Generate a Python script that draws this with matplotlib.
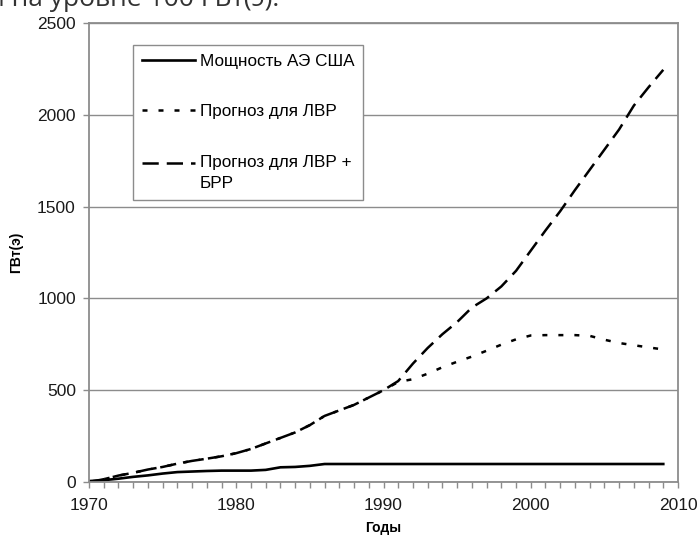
import numpy as np
import matplotlib
matplotlib.use('Agg')
from matplotlib import pyplot as plt
from matplotlib.legend_handler import HandlerLine2D

plt.rcParams['font.family'] = ['Liberation Sans', 'DejaVu Sans']

years = np.arange(1970, 2010)

# US nuclear power, GW(e)
us_power = [5, 10, 18, 28, 36, 46, 54, 57, 60, 62,
            62, 62, 66, 80, 82, 88, 98, 98, 98, 98,
            98, 98, 98, 98, 98, 98, 98, 98, 98, 98,
            98, 98, 98, 98, 98, 98, 98, 98, 98, 98]

# forecast for LWR
lwr = [0, 15, 35, 50, 68, 82, 100, 115, 127, 140,
       157, 180, 210, 240, 270, 310, 360, 390, 420, 460,
       500, 545, 560, 590, 625, 655, 683, 715, 748, 777,
       798, 800, 800, 800, 796, 775, 757, 745, 733, 722]

# forecast for LWR + FBR
lwr_fbr = [0, 15, 35, 50, 68, 82, 100, 115, 127, 140,
           157, 180, 210, 240, 270, 310, 360, 390, 420, 460,
           500, 550, 645, 730, 805, 871, 950, 1000, 1065, 1150,
           1260, 1370, 1475, 1590, 1700, 1810, 1920, 2050, 2150, 2245]

labels = ['Мощность АЭ США', 'Прогноз для ЛВР', 'Прогноз для ЛВР +\nБРР']

GRAY = '#8c8c8c'


class FirstLineHandler(HandlerLine2D):
    # put the handle next to the first line of a two-line label
    def create_artists(self, legend, orig_handle, xdescent, ydescent,
                       width, height, fontsize, trans):
        arts = super().create_artists(legend, orig_handle, xdescent, ydescent,
                                      width, height, fontsize, trans)
        for a in arts:
            a.set_ydata(np.asarray(a.get_ydata()) + 0.6 * fontsize)
        return arts


fig = plt.figure(figsize=(6.98, 5.36), dpi=100)
ax = fig.add_axes([89 / 698, 1 - 482 / 536, 589 / 698, 459 / 536])

l1, = ax.plot(years, us_power, color='black', lw=1.9, label=labels[0])
l2, = ax.plot(years, lwr, color='black', lw=1.8, linestyle=(0, (2.0, 4.4)),
              label=labels[1])
l3, = ax.plot(years, lwr_fbr, color='black', lw=1.8, linestyle=(0, (6.5, 3.2)),
              label=labels[2])

ax.set_xlim(1970, 2010)
ax.set_ylim(0, 2500)
ax.set_xticks(range(1970, 2011, 10))
ax.set_xticks(range(1970, 2011, 1), minor=True)
ax.set_yticks(range(0, 2501, 500))

ax.yaxis.grid(True, color=GRAY, lw=1.0)
ax.set_axisbelow(True)
for s in ax.spines.values():
    s.set_color(GRAY)
    s.set_linewidth(1.3)

ax.tick_params(axis='both', which='both', direction='out', color=GRAY,
               width=1.0, length=4.5, labelsize=12.5, labelcolor='#1a1a1a')
ax.tick_params(axis='y', pad=5)
ax.tick_params(axis='x', pad=7)

ax.set_ylabel('ГВт(э)', fontsize=10, fontweight='bold', labelpad=10)
ax.set_xlabel('Годы', fontsize=10, fontweight='bold', labelpad=6)

leg = ax.legend(handles=[l1, l2, l3], loc='upper left',
                bbox_to_anchor=(0.075, 0.952), borderaxespad=0,
                fontsize=12.3, frameon=True, fancybox=False,
                edgecolor=GRAY, framealpha=1, handlelength=3.1,
                handletextpad=0.3, labelspacing=2.1, borderpad=0.5,
                handler_map={l3: FirstLineHandler()})
leg.get_frame().set_linewidth(1.0)
leg.get_texts()[2].set_linespacing(1.5)

fig.text(-12 / 698, 1 - 6 / 536, 'и на уровне 100 ГВт(э).', fontsize=19,
         family=['Open Sans', 'DejaVu Sans'], color='#333333', va='baseline')

fig.savefig('out.png', dpi=100)
